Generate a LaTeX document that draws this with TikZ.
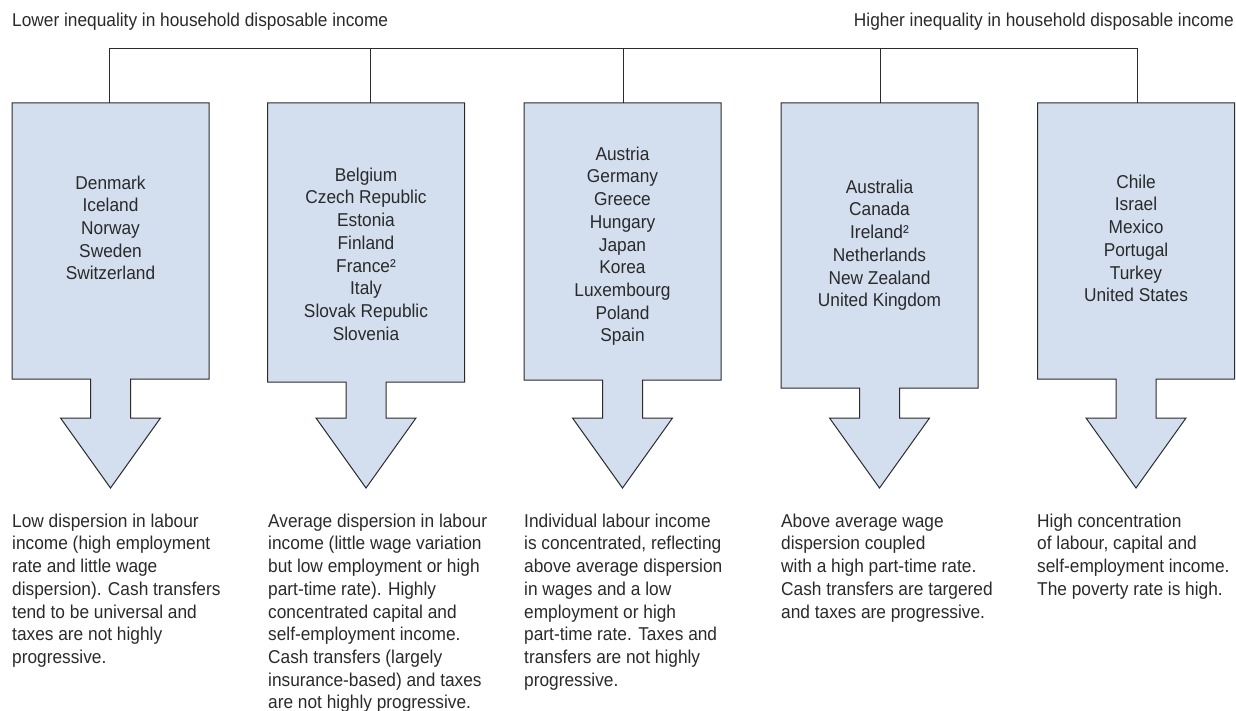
\documentclass[tikz,border=0pt]{standalone}
\usepackage{fontspec}
\setmainfont[FakeStretch=0.93]{Liberation Sans}
\definecolor{boxfill}{HTML}{D3DEEF}
\definecolor{linec}{HTML}{2B2B2B}
\definecolor{textc}{HTML}{2A2A2A}
\newcommand\myarrow[3]{%
  \draw[arrowbox] (#1,103) -- (#1+197,103) -- (#1+197,#2) -- (#1+118.5,#2)
    -- (#1+118.5,418) -- (#1+148.5,418) -- (#1+98.5,488) -- (#1+48.5,418)
    -- (#1+78.5,418) -- (#1+78.5,#2) -- (#1,#2) -- cycle;}
\newcommand\fs{\rule{0pt}{15pt}}
\begin{document}
\begin{tikzpicture}[x=1pt,y=-1pt,
  arrowbox/.style={draw=linec, fill=boxfill, line width=1pt, line join=miter},
  conn/.style={draw=linec, line width=1pt},
  txt/.style={inner sep=0pt, text=textc, font=\fontsize{18.6}{22.7}\selectfont},
  countries/.style={txt, align=center, anchor=north},
  desc/.style={txt, align=left, anchor=north west},
  head/.style={txt}]
\useasboundingbox (0,0) rectangle (1236,711);

\node[head, anchor=base west] (lower) at (12,27) {Lower inequality in household disposable income};
\node[head, anchor=base east] (higher) at (1234,27) {Higher inequality in household disposable income};

\myarrow{12}{379}{a1}
\myarrow{267.5}{382}{a2}
\myarrow{524}{380}{a3}
\myarrow{781}{388}{a4}
\myarrow{1037.5}{379}{a5}

\coordinate (top1) at (109,103);
\coordinate (top2) at (370,103);
\coordinate (top3) at (623,103);
\coordinate (top4) at (880,103);
\coordinate (top5) at (1137,103);
\coordinate (bus) at (0,49);

\draw[conn] (top1) |- (bus -| top5) -- (top5);
\draw[conn] (top2) -- (top2 |- bus);
\draw[conn] (top3) -- (top3 |- bus);
\draw[conn] (top4) -- (top4 |- bus);

\node[countries] (c1) at (110.5,174) {\fs Denmark\\Iceland\\Norway\\Sweden\\Switzerland};
\node[countries] (c2) at (366,166) {\fs Belgium\\Czech Republic\\Estonia\\Finland\\France²\\Italy\\Slovak Republic\\Slovenia};
\node[countries] (c3) at (622.5,145) {\fs Austria\\Germany\\Greece\\Hungary\\Japan\\Korea\\Luxembourg\\Poland\\Spain};
\node[countries] (c4) at (879.5,178) {\fs Australia\\Canada\\Ireland²\\Netherlands\\New Zealand\\United Kingdom};
\node[countries] (c5) at (1136,173) {\fs Chile\\Israel\\Mexico\\Portugal\\Turkey\\United States};

\node[desc] (d1) at (12,512) {\fs Low dispersion in labour\\income (high employment\\rate and little wage\\dispersion). Cash transfers\\tend to be universal and\\taxes are not highly\\progressive.};
\node[desc] (d2) at (268,512) {\fs Average dispersion in labour\\income (little wage variation\\but low employment or high\\part-time rate). Highly\\concentrated capital and\\self-employment income.\\Cash transfers (largely\\insurance-based) and taxes\\are not highly progressive.};
\node[desc] (d3) at (524,512) {\fs Individual labour income\\is concentrated, reflecting\\above average dispersion\\in wages and a low\\employment or high\\part-time rate. Taxes and\\transfers are not highly\\progressive.};
\node[desc] (d4) at (781,512) {\fs Above average wage\\dispersion coupled\\with a high part-time rate.\\Cash transfers are targered\\and taxes are progressive.};
\node[desc] (d5) at (1037,512) {\fs High concentration\\of labour, capital and\\self-employment income.\\The poverty rate is high.};
\end{tikzpicture}
\end{document}
